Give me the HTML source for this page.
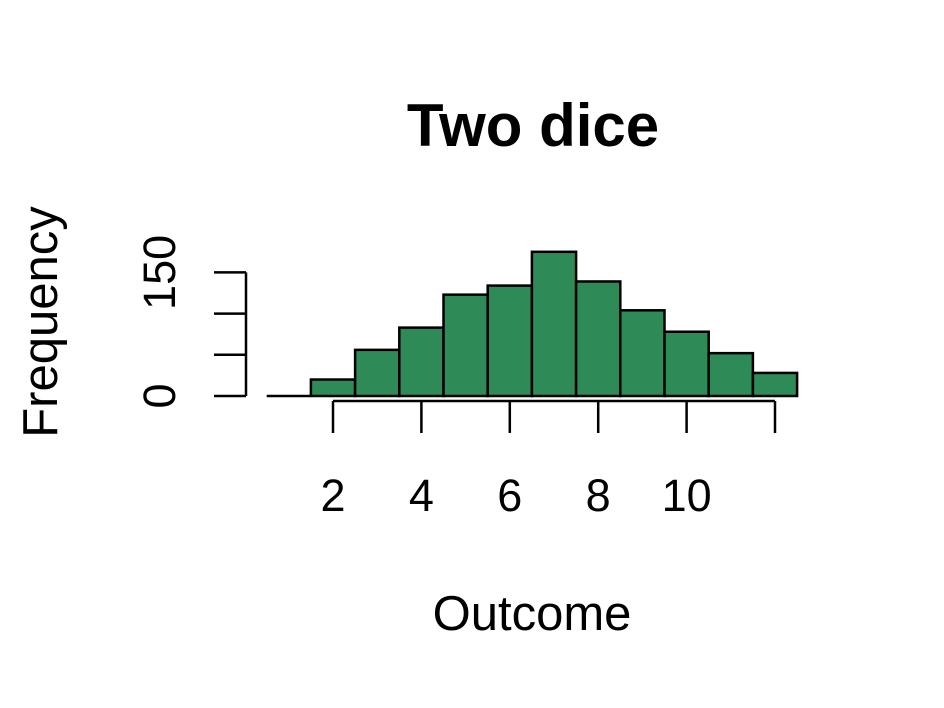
<!DOCTYPE html>
<html><head><meta charset="utf-8"><style>
html,body{margin:0;padding:0;background:#fff;}
svg{display:block;font-family:"Liberation Sans",Arial,sans-serif;}
</style></head><body>
<svg id="chart" width="944" height="708" viewBox="0 0 944 708">
<text x="533" y="146" text-anchor="middle" font-size="60" font-weight="bold">Two dice</text>
<text x="532" y="630" text-anchor="middle" font-size="49">Outcome</text>
<text transform="translate(57,322) rotate(-90)" text-anchor="middle" font-size="49">Frequency</text>
<g id="bars"></g><g id="xaxis"></g><g id="yaxis"></g>
</svg>
<script>
const binStarts=[0.5,1.5,2.5,3.5,4.5,5.5,6.5,7.5,8.5,9.5,10.5,11.5];
const counts=[0,20,56,83,123,134,175,139,104,78,52,28];
const xTicks=[2,4,6,8,10,12];
const xTickLabels=["2","4","6","8","10",""];
const yTicks=[0,50,100,150];
const yTickLabels=["0","","","150"];
const NS="http://www.w3.org/2000/svg";
const xs=v=>333+(v-2)*44.2;
const ys=v=>396-v*41.2/50;
function mk(t,a,p){const e=document.createElementNS(NS,t);for(const k in a)e.setAttribute(k,a[k]);p.appendChild(e);return e;}
const bars=document.getElementById('bars');
counts.forEach((c,i)=>{
  const x0=xs(binStarts[i]),x1=xs(binStarts[i]+1);
  let el;
  if(c===0){el=mk('line',{x1:x0,x2:x1,y1:ys(0),y2:ys(0),stroke:'#000','stroke-width':2.5},bars);}
  else el=mk('rect',{x:x0,y:ys(c),width:x1-x0,height:ys(0)-ys(c),fill:'#2e8b57',stroke:'#000','stroke-width':2.5},bars);
  
  
});
const xa=document.getElementById('xaxis');
const xl=mk('line',{x1:xs(xTicks[0]),x2:xs(xTicks[xTicks.length-1]),y1:401,y2:401,stroke:'#000','stroke-width':2.5},xa);


xTicks.forEach((t,i)=>{
  const tk=mk('line',{x1:xs(t),x2:xs(t),y1:401,y2:433,stroke:'#000','stroke-width':2.5},xa);
  
  
  if(xTickLabels[i]){
    const tx=mk('text',{x:xs(t),y:511,'text-anchor':'middle','font-size':45},xa);
    tx.textContent=xTickLabels[i];
    
    
  }
});
const ya=document.getElementById('yaxis');
const yl=mk('line',{x1:246,x2:246,y1:ys(yTicks[0]),y2:ys(yTicks[yTicks.length-1]),stroke:'#000','stroke-width':2.5},ya);


yTicks.forEach((t,i)=>{
  const tk=mk('line',{x1:214,x2:246,y1:ys(t),y2:ys(t),stroke:'#000','stroke-width':2.5},ya);
  
  
  if(yTickLabels[i]){
    const tx=mk('text',{transform:'translate(175,'+ys(t)+') rotate(-90)','text-anchor':'middle','font-size':45},ya);
    tx.textContent=yTickLabels[i];
    
    
  }
});
</script>
</body></html>
